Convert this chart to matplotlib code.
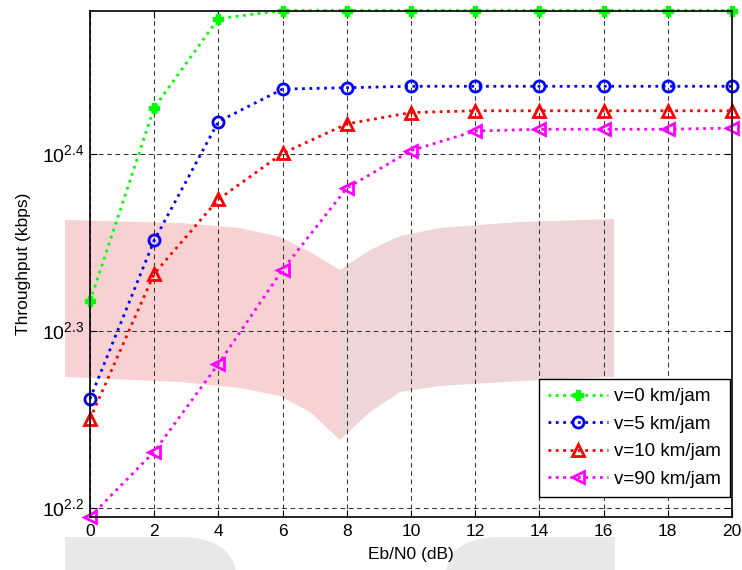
import matplotlib
matplotlib.use('Agg')
import matplotlib.pyplot as plt
from matplotlib.patches import Polygon, PathPatch
from matplotlib.path import Path
from matplotlib.ticker import NullLocator

plt.rcParams['font.family'] = ['Liberation Sans', 'DejaVu Sans']
plt.rcParams['mathtext.fontset'] = 'custom'
plt.rcParams['mathtext.rm'] = 'Liberation Sans'

# data (kbps)
ebn0 = [0, 2, 4, 6, 8, 10, 12, 14, 16, 18, 20]
v0 = [207.4, 266.8, 299.5, 302.7, 302.7, 302.7, 302.7, 302.7, 302.7, 302.7, 302.7]
v5 = [182.7, 224.5, 262.0, 273.3, 273.8, 274.3, 274.3, 274.3, 274.3, 274.3, 274.3]
v10 = [178.0, 215.0, 236.8, 251.4, 261.2, 265.1, 265.7, 265.7, 265.7, 265.7, 265.7]
v90 = [156.7, 170.6, 191.2, 216.1, 240.3, 252.3, 258.8, 259.4, 259.4, 259.4, 259.8]
labels = ['v=0 km/jam', 'v=5 km/jam', 'v=10 km/jam', 'v=90 km/jam']
yticks = [10**2.2, 10**2.3, 10**2.4]
yticklabels = [r'$10^{2.2}$', r'$10^{2.3}$', r'$10^{2.4}$']

W, H = 742, 570
fig = plt.figure(figsize=(W / 100, H / 100), dpi=100)
ax = fig.add_axes([90 / W, 1 - 517 / H, (732 - 90) / W, (517 - 10.5) / H])
ax.patch.set_alpha(0)

# watermark behind the chart (pixel coords -> figure coords)
def fpts(pts):
    return [(x / W, 1 - y / H) for x, y in pts]

left_page = [(65, 220), (180, 223), (240, 228), (280, 237), (310, 252), (340, 270),
             (340, 440), (310, 412), (280, 396), (240, 388), (180, 382), (65, 377)]
right_page = [(340, 270), (370, 250), (400, 236), (440, 228), (520, 222), (614, 219),
              (614, 377), (520, 381), (440, 386), (400, 392), (370, 412), (340, 440)]
fig.patches.append(Polygon(fpts(left_page), closed=True, transform=fig.transFigure,
                           facecolor='#f8d2d3', edgecolor='none', zorder=-2))
fig.patches.append(Polygon(fpts(right_page), closed=True, transform=fig.transFigure,
                           facecolor='#eed5d7', edgecolor='none', zorder=-2))

C, L4 = Path.CURVE4, Path.LINETO
grey_left = Path(fpts([(65, 575), (65, 537), (180, 537), (225, 537), (236, 560),
                       (236, 575), (65, 575)]),
                 [Path.MOVETO, L4, L4, C, C, C, L4])
grey_right = Path(fpts([(615, 575), (615, 537), (500, 537), (455, 537), (446, 560),
                        (446, 575), (615, 575)]),
                  [Path.MOVETO, L4, L4, C, C, C, L4])
for p in (grey_left, grey_right):
    fig.patches.append(PathPatch(p, transform=fig.transFigure, facecolor='#e8e8e8',
                                 edgecolor='none', zorder=-2))

ax.plot(ebn0, v0, ':', color=(0, 1, 0), lw=2, marker='P', ms=7, label=labels[0],
        clip_on=False)
ax.plot(ebn0, v5, ':', color=(0, 0, 1), lw=2, marker='o', ms=8, mew=2,
        mfc='none', label=labels[1], clip_on=False)
ax.plot(ebn0, v10, ':', color=(1, 0, 0), lw=2, marker='^', ms=9, mew=2,
        mfc='none', label=labels[2], clip_on=False)
ax.plot(ebn0, v90, ':', color=(1, 0, 1), lw=2, marker='<', ms=9, mew=2,
        mfc='none', label=labels[3], clip_on=False)

ax.set_yscale('log')
ax.set_xlim(0, 20)
ax.set_ylim(min(v90), max(v0))
ax.set_xticks(ebn0)
ax.set_yticks(yticks)
ax.set_yticklabels(yticklabels)
ax.yaxis.set_minor_locator(NullLocator())
ax.tick_params(direction='in', length=5, top=True, right=True)
ax.tick_params(axis='x', labelsize=12.5, pad=5)
ax.tick_params(axis='y', labelsize=14, pad=4)
ax.grid(True, which='major', color='#333333', linestyle=(0, (4.5, 3.5)), lw=0.75)
ax.set_xlabel('Eb/N0 (dB)', fontsize=12.5, labelpad=6)
ax.set_ylabel('Throughput (kbps)', fontsize=12.5, labelpad=8)
for s in ax.spines.values():
    s.set_linewidth(1.2)
    s.set_color('black')

leg = ax.legend(loc='lower right', bbox_to_anchor=((730 - 90) / 642, (517 - 497) / 506.5),
                borderaxespad=0, fontsize=13.5, handlelength=3.2, fancybox=False,
                edgecolor='black', framealpha=1, labelspacing=0.55,
                handletextpad=0.3, borderpad=0.5)
leg.get_frame().set_linewidth(1.0)

fig.savefig('out.png', dpi=100)
